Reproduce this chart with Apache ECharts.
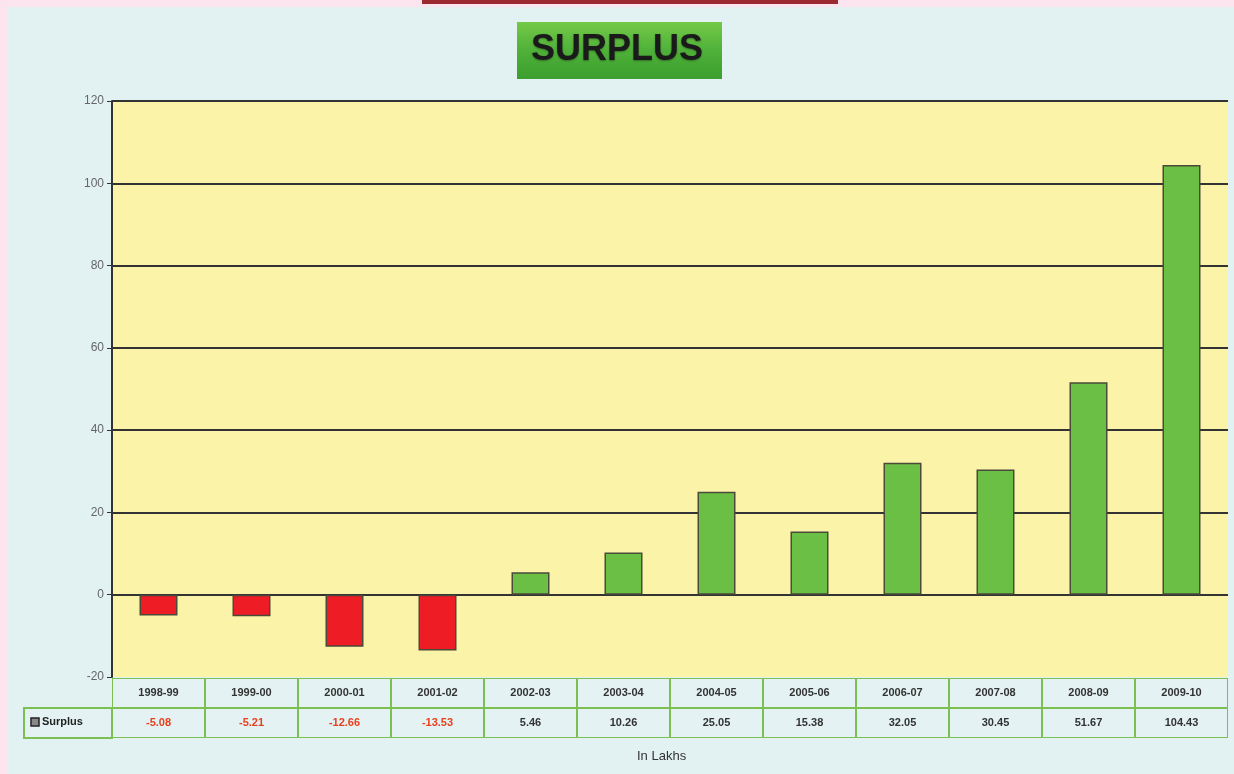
<!DOCTYPE html>
<html>
<head>
<meta charset="utf-8">
<script src="https://cdn.jsdelivr.net/npm/echarts@6/dist/echarts.min.js"></script>
<style>
html,body{margin:0;padding:0;background:#fbe4ee;}
#main{width:1234px;height:774px;}
</style>
</head>
<body>
<div id="main"></div>
<script>
const title = 'SURPLUS';
const seriesName = 'Surplus';
const unitNote = 'In Lakhs';
const categories = ['1998-99','1999-00','2000-01','2001-02','2002-03','2003-04','2004-05','2005-06','2006-07','2007-08','2008-09','2009-10'];
const surplus = [-5.08,-5.21,-12.66,-13.53,5.46,10.26,25.05,15.38,32.05,30.45,51.67,104.43];
const yTicks = [-20,0,20,40,60,80,100,120];

const chart = echarts.init(document.getElementById('main'));
const cellW = 93;
const cellStyle = {
  width: cellW - 2, height: 28, lineHeight: 30, align: 'center',
  backgroundColor: '#e4f2f3', borderColor: '#7cbf52', borderWidth: 1,
  fontFamily: 'Liberation Sans', fontWeight: 'bold', fontSize: 11
};
chart.setOption({
  backgroundColor: 'transparent',
  animation: false,
  graphic: [
    {type:'rect', shape:{x:7,y:7,width:1227,height:767}, style:{fill:'#e2f2f2'}, z:-10},
    {type:'rect', shape:{x:422,y:0,width:416,height:4}, style:{fill:'#9b2a30'}, z:-9},
    {type:'rect', shape:{x:517,y:22,width:205,height:57},
      style:{fill:new echarts.graphic.LinearGradient(0,0,0,1,[{offset:0,color:'#74c948'},{offset:0.5,color:'#4fb139'},{offset:1,color:'#3b9e2e'}])}, z:-8},
    {type:'text', left:'center', top:32, style:{text:title, font:'bold 36px "Liberation Sans"', fill:'#1a1a1a', textAlign:'center', textShadowColor:'rgba(0,0,0,0.35)', textShadowBlur:2, textShadowOffsetY:1}},
    {type:'rect', shape:{x:24,y:708,width:88,height:30}, style:{fill:'#e4f2f3', stroke:'#7cbf52', lineWidth:2}},
    {type:'rect', shape:{x:31,y:718,width:8,height:8}, style:{fill:'#888', stroke:'#222', lineWidth:1.5}},
    {type:'text', left:42, top:716, style:{text:seriesName, font:'bold 11px "Liberation Sans"', fill:'#222'}},
    {type:'text', left:637, top:750, style:{text:unitNote, font:'13px "Liberation Sans"', fill:'#333'}}
  ],
  grid: {left:112, right:6, top:101, bottom:97, show:true, backgroundColor:'#fbf3a7', borderWidth:0},
  xAxis: {
    type:'category', data:categories,
    axisLine:{show:false}, axisTick:{show:false},
    axisLabel:{
      interval:0, margin:1,
      formatter:function(v, i){
        const val = surplus[i];
        return '{a|' + v + '}\n' + (val < 0 ? '{n|' : '{p|') + val.toFixed(2) + '}';
      },
      rich:{
        a: Object.assign({}, cellStyle, {color:'#333'}),
        p: Object.assign({}, cellStyle, {color:'#333'}),
        n: Object.assign({}, cellStyle, {color:'#e8401c'})
      }
    }
  },
  yAxis: {
    type:'value', min:-20, max:120, interval:20,
    axisLine:{show:true, lineStyle:{color:'#333', width:2}},
    axisTick:{show:true, length:5, lineStyle:{color:'#333'}},
    axisLabel:{color:'#666', fontSize:12, fontFamily:'Liberation Sans', margin:8,
      formatter:function(v){ return yTicks.indexOf(v) >= 0 ? String(v) : ''; }},
    splitLine:{show:true, lineStyle:{color:['rgba(0,0,0,0)','#333','#333','#333','#333','#333','#333','#333'], width:2}}
  },
  series: [{
    type:'bar', name:seriesName, data:surplus.map(v => ({value:v, itemStyle:{color: v < 0 ? '#ee1c24' : '#6cbf45'}})),
    barWidth:38,
    itemStyle:{borderColor:'#4a4a3a', borderWidth:1.5}
  }]
});
</script>
</body>
</html>
